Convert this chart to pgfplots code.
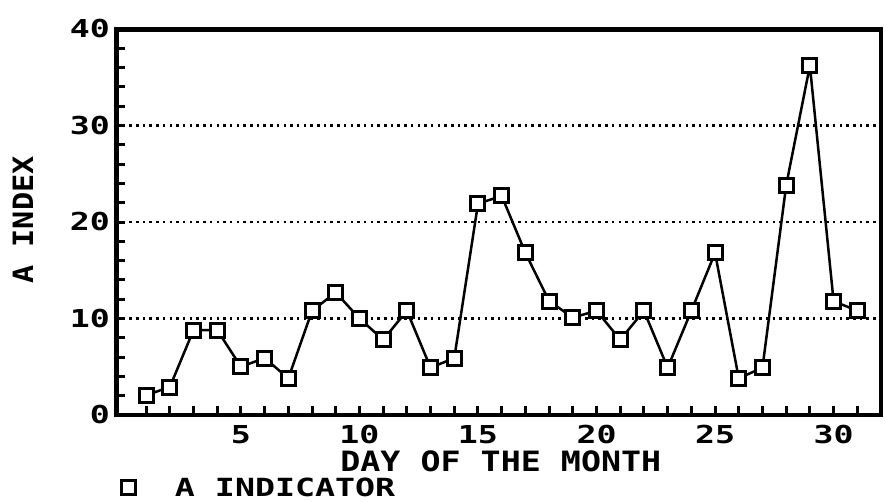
\documentclass[border=0pt]{standalone}
\usepackage{fontspec}
\usepackage{pgfplots}
\pgfplotsset{compat=1.18}
\newfontfamily\dmA[FakeStretch=1.345]{DejaVu Sans Mono}
\newfontfamily\dmB[FakeStretch=1.19]{DejaVu Sans Mono}
\newfontfamily\dmC[FakeStretch=1.08]{DejaVu Sans Mono}
\newfontfamily\dmD[FakeStretch=1.33]{DejaVu Sans Mono}
\newcommand\tickf{\dmA\bfseries\fontsize{24.7pt}{26pt}\selectfont}
\newcommand\labf{\dmB\bfseries\fontsize{28pt}{30pt}\selectfont}
\newcommand\ylabf{\dmC\bfseries\fontsize{28pt}{30pt}\selectfont}
\newcommand\legf{\dmD\bfseries\fontsize{25pt}{26pt}\selectfont}
\begin{document}
\begin{tikzpicture}
\useasboundingbox (-116pt,-86pt) rectangle (769pt,415pt);
\begin{axis}[
  at={(0pt,0pt)}, anchor=south west,
  scale only axis, width=765pt, height=386pt,
  xmin=-0.27, xmax=32, ymin=0, ymax=40,
  xtick={5,10,...,30}, minor xtick={1,...,31},
  ytick={0,10,...,40}, minor ytick={2,4,...,38},
  tick align=inside, xtick pos=bottom, ytick pos=left,
  major tick length=9pt, minor tick length=9pt,
  major tick style={black, line width=3pt},
  minor tick style={black, line width=3pt},
  axis line style={line width=4.5pt},
  ymajorgrids,
  grid style={black, line width=2.5pt, dash pattern=on 2.5pt off 4.2pt},
  /pgf/number format/assume math mode=true,
  tick label style={font=\tickf},
  xticklabel style={anchor=north, inner sep=0pt, yshift=-10pt},
  yticklabel style={anchor=east, inner sep=0pt, xshift=-6pt},
  xlabel={DAY OF THE MONTH},
  xlabel style={at={(axis description cs:0.503,-0.120)}, anchor=center, font=\labf, inner sep=0pt},
  ylabel={A INDEX},
  ylabel style={at={(axis description cs:-0.1216,0.505)}, anchor=center, font=\ylabf, inner sep=0pt},
  legend style={at={(axis description cs:0.0078,-0.188)}, anchor=west, draw=none, fill=none,
    inner sep=0pt, outer sep=0pt, font=\legf, legend cell align=left,
    /tikz/every odd column/.append style={column sep=37pt}},
  legend image code/.code={\draw[#1, mark repeat=1, mark size=7pt, mark options={fill=white, line width=3pt, solid}] plot coordinates {(0pt,0pt)};},
]
\addplot[black, line width=2.5pt, mark=square*, mark size=7pt,
  mark options={fill=white, line width=3pt, solid}] coordinates {
(1,2.05) (2,2.9) (3,8.8) (4,8.8) (5,5.0) (6,5.9) (7,3.8) (8,10.8)
(9,12.7) (10,10.0) (11,7.8) (12,10.8) (13,4.9) (14,5.9) (15,21.9)
(16,22.7) (17,16.8) (18,11.8) (19,10.1) (20,10.8) (21,7.8) (22,10.8)
(23,4.9) (24,10.8) (25,16.8) (26,3.8) (27,4.9) (28,23.8) (29,36.2)
(30,11.8) (31,10.8)
};
\addlegendentry{A INDICATOR}
\draw[line width=6.5pt] (rel axis cs:0,0) -- (rel axis cs:0,1) -- (rel axis cs:1,1);
\end{axis}
\end{tikzpicture}
\end{document}
